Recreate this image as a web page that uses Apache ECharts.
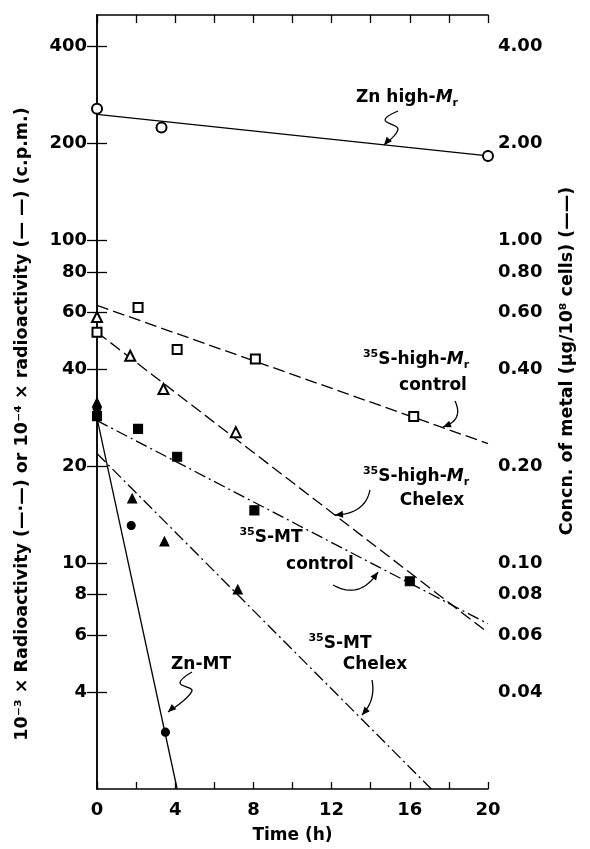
<!DOCTYPE html>
<html>
<head>
<meta charset="utf-8">
<script src="https://cdn.jsdelivr.net/npm/echarts@6/dist/echarts.min.js"></script>
<style>
  html, body { margin: 0; padding: 0; background: #fff; }
  #main { width: 590px; height: 849px; }
</style>
</head>
<body>
<div id="main"></div>
<script>
// values (time in h, radioactivity on log scale)
var leftTicks = [4, 6, 8, 10, 20, 40, 60, 80, 100, 200, 400];
var rightTicks = [0.04, 0.06, 0.08, 0.1, 0.2, 0.4, 0.6, 0.8, 1, 2, 4];

// Zn high-Mr (open circles, solid)
var znHighPts = [[0, 256], [3.3, 224], [20, 183]];
var znHighFit = [[0, 246], [20, 183]];
// 35S-high-Mr control (open squares, dashed)
var sHighCtrlPts = [[0, 52], [2.1, 62], [4.1, 46], [8.1, 43], [16.2, 28.5]];
var sHighCtrlFit = [[0, 63], [20, 23.5]];
// 35S-high-Mr Chelex (open triangles, dashed)
var sHighChelexPts = [[0, 58], [1.7, 44], [3.4, 34.7], [7.1, 25.5]];
var sHighChelexFit = [[0, 52], [20, 6.1]];
// 35S-MT control (filled squares, dash-dot)
var sMtCtrlPts = [[0, 28.6], [2.1, 26.1], [4.1, 21.4], [8.05, 14.6], [16, 8.8]];
var sMtCtrlFit = [[0, 27.7], [20, 6.5]];
// 35S-MT Chelex (filled triangles, dash-dot)
var sMtChelexPts = [[0, 31.5], [1.8, 15.9], [3.45, 11.7], [7.2, 8.3]];
var sMtChelexFit = [[0, 21.9], [17.1, 2]];
// Zn-MT (filled circles, solid)
var znMtPts = [[0, 30.3], [1.75, 13.1], [3.5, 3.0]];
var znMtFit = [[0, 28.2], [4.1, 2]];

var FONT = 'DejaVu Sans';
var DASH = [12, 5];
var DASHDOT = [12, 4, 2, 4];

function fitLine(data, dash) {
  return {
    type: 'line', data: data, symbol: 'none', silent: true, z: 2,
    lineStyle: { color: '#000', width: 1.3, type: dash }
  };
}
function pts(data, symbol, size) {
  return {
    type: 'scatter', data: data, symbol: symbol, symbolSize: size, z: 5,
    itemStyle: { color: '#000', borderColor: '#000', borderWidth: 1.1, opacity: 1 }
  };
}

// arrow helpers for the annotations
function head(tip, from) {
  var dx = tip[0] - from[0], dy = tip[1] - from[1];
  var len = Math.sqrt(dx * dx + dy * dy);
  var ux = dx / len, uy = dy / len;
  var bx = tip[0] - ux * 8, by = tip[1] - uy * 8;
  return {
    type: 'polygon',
    shape: { points: [tip, [bx - uy * 3.5, by + ux * 3.5], [bx + uy * 3.5, by - ux * 3.5]] },
    style: { fill: '#000' }
  };
}
function squiggle(points) {
  var n = points.length;
  return [
    { type: 'polyline', shape: { points: points, smooth: 0.4 }, style: { stroke: '#000', lineWidth: 1.3, fill: null } },
    head(points[n - 1], points[n - 2])
  ];
}
function curve(p0, c, p1) {
  var p = [];
  for (var i = 0; i <= 16; i++) {
    var t = i / 16, a = (1 - t) * (1 - t), b = 2 * t * (1 - t), d = t * t;
    p.push([a * p0[0] + b * c[0] + d * p1[0], a * p0[1] + b * c[1] + d * p1[1]]);
  }
  return [
    { type: 'polyline', shape: { points: p }, style: { stroke: '#000', lineWidth: 1.3, fill: null } },
    head(p1, p[14])
  ];
}
var rich = {
  i: { fontFamily: FONT, fontSize: 17, fontWeight: 'bold', fontStyle: 'italic', lineHeight: 22 },
  sub: { fontFamily: FONT, fontSize: 11, fontWeight: 'bold', verticalAlign: 'bottom', lineHeight: 22 },
  sup: { fontFamily: FONT, fontSize: 11, fontWeight: 'bold', verticalAlign: 'top', lineHeight: 22 }
};
function label(x, y, text) {
  return {
    type: 'text', x: x, y: y, z: 10,
    style: {
      text: text, fontFamily: FONT, fontSize: 17, fontWeight: 'bold', lineHeight: 22, fill: '#000',
      align: 'center', verticalAlign: 'middle', rich: rich
    }
  };
}

var graphics = [
  label(407, 98, 'Zn high-{i|M}{sub|r}'),
  label(416, 360, '{sup|35}S-high-{i|M}{sub|r}'),
  label(433, 386, 'control'),
  label(416, 477, '{sup|35}S-high-{i|M}{sub|r}'),
  label(432, 501, 'Chelex'),
  label(271, 538, '{sup|35}S-MT'),
  label(320, 565, 'control'),
  label(340, 644, '{sup|35}S-MT'),
  label(375, 665, 'Chelex'),
  label(201, 665, 'Zn-MT')
]
  .concat(squiggle([[398, 111], [385, 120], [398, 129], [384, 145]]))
  .concat(curve([455, 401], [464, 420], [443, 427]))
  .concat(curve([370, 490], [365, 514], [335, 515]))
  .concat(curve([333, 585], [360, 600], [378, 572]))
  .concat(curve([372, 680], [376, 700], [362, 715]))
  .concat(squiggle([[192, 672], [180, 683], [192, 691], [168, 712]]));

var chart = echarts.init(document.getElementById('main'));
var option = {
  animation: false,
  backgroundColor: '#fff',
  grid: { left: 97, right: 102, top: 15, bottom: 57 },
  xAxis: [{
    type: 'value', min: 0, max: 20, interval: 2,
    name: 'Time (h)', nameLocation: 'middle', nameGap: 38,
    nameTextStyle: { fontFamily: FONT, fontSize: 17, fontWeight: 'bold', color: '#000' },
    axisLine: { onZero: false, lineStyle: { color: '#000', width: 1.5 } },
    axisTick: { inside: true, length: 7, lineStyle: { color: '#000', width: 1.3 } },
    axisLabel: {
      margin: 12, fontFamily: FONT, fontSize: 18, fontWeight: 'bold', color: '#000',
      formatter: function (v) { return v % 4 === 0 ? String(v) : ''; }
    },
    splitLine: { show: false }
  }, {
    type: 'value', position: 'top', min: 0, max: 20, interval: 2,
    axisLine: { onZero: false, lineStyle: { color: '#000', width: 1.5 } },
    axisTick: { inside: true, length: 8, lineStyle: { color: '#000', width: 1.3 } },
    axisLabel: { show: false },
    splitLine: { show: false }
  }],
  yAxis: [{
    type: 'log', min: 2, max: 500,
    name: '10\u207B\u00B3 \u00D7 Radioactivity (\u2014\u00B7\u2014) or 10\u207B\u2074 \u00D7 radioactivity (\u2014 \u2014) (c.p.m.)',
    nameLocation: 'middle', nameRotate: 90, nameGap: 66,
    nameTextStyle: { fontFamily: FONT, fontSize: 17.5, fontWeight: 'bold', color: '#000', padding: [0, 44, 0, 0] },
    axisLine: { lineStyle: { color: '#000', width: 1.5 } },
    axisTick: { inside: true, length: 10, customValues: leftTicks, lineStyle: { color: '#000', width: 1.3 } },
    axisLabel: {
      margin: 10, customValues: leftTicks, fontFamily: FONT, fontSize: 18, fontWeight: 'bold', color: '#000',
      formatter: function (v) { return String(Math.round(v)); }
    },
    splitLine: { show: false }, minorTick: { show: false }
  }, {
    type: 'log', min: 0.02, max: 5, position: 'right',
    name: 'Concn. of metal (\u03BCg/10\u2078 cells) (\u2014\u2014)',
    nameLocation: 'middle', nameRotate: 90, nameGap: 70,
    nameTextStyle: { fontFamily: FONT, fontSize: 17.5, fontWeight: 'bold', color: '#000', padding: [0, 0, 0, 82] },
    axisLine: { show: true, lineStyle: { color: '#000', width: 1.5 } },
    axisTick: { inside: true, length: 10, customValues: rightTicks, lineStyle: { color: '#000', width: 1.3 } },
    axisLabel: {
      margin: 10, customValues: rightTicks, fontFamily: FONT, fontSize: 18, fontWeight: 'bold', color: '#000',
      formatter: function (v) { return v.toFixed(2); }
    },
    splitLine: { show: false }
  }],
  series: [
    fitLine(znHighFit, 'solid'),
    fitLine(sHighCtrlFit, DASH),
    fitLine(sHighChelexFit, DASH),
    fitLine(sMtCtrlFit, DASHDOT),
    fitLine(sMtChelexFit, DASHDOT),
    fitLine(znMtFit, 'solid'),
    pts(znHighPts, 'emptyCircle', 10),
    pts(sHighCtrlPts, 'emptyRect', 9),
    pts(sHighChelexPts, 'emptyTriangle', 10),
    pts(sMtCtrlPts, 'rect', 9),
    pts(sMtChelexPts, 'triangle', 9),
    pts(znMtPts, 'circle', 8)
  ],
  graphic: graphics
};
chart.setOption(option);
</script>
</body>
</html>
